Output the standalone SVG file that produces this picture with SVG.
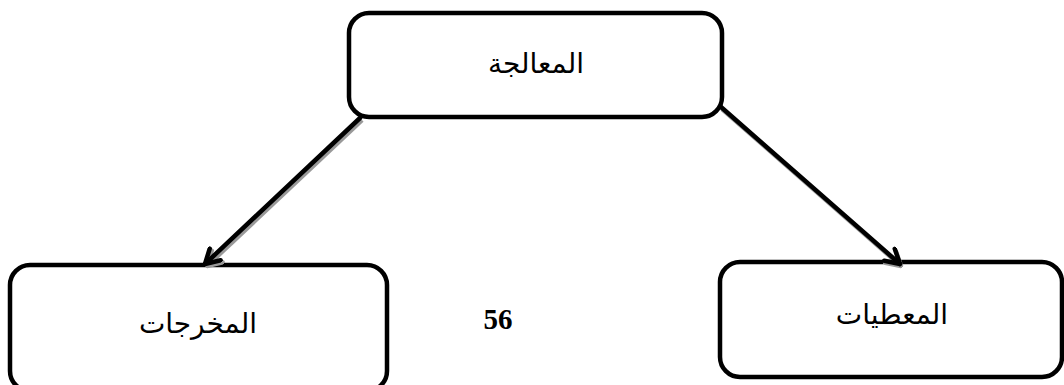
<svg xmlns="http://www.w3.org/2000/svg" width="1064" height="385" viewBox="0 0 1064 385">
<defs>
<style>
.box{fill:#fff;stroke:#000;stroke-width:4.5}
.lbl{font-family:"Liberation Sans","DejaVu Sans",sans-serif;font-size:28px;fill:#000;text-anchor:middle}
.num{font-family:"Liberation Serif",serif;font-size:29px;font-weight:bold;fill:#000;text-anchor:middle}
.conn{stroke:#000;stroke-width:4.5;fill:none;stroke-linecap:round}
.shadow{stroke:#999;stroke-width:4.5;fill:none}
</style>
<marker id="arr" viewBox="0 0 20 20" refX="18" refY="10" markerWidth="20" markerHeight="20" orient="auto" markerUnits="userSpaceOnUse">
<path d="M4,2 L18,10 L4,18" fill="none" stroke="#000" stroke-width="4.5" stroke-linecap="round" stroke-linejoin="round"/>
</marker>
<marker id="arrs" viewBox="0 0 20 20" refX="18" refY="10" markerWidth="20" markerHeight="20" orient="auto" markerUnits="userSpaceOnUse">
<path d="M4,2 L18,10 L4,18" fill="none" stroke="#999" stroke-width="4.5" stroke-linecap="round" stroke-linejoin="round"/>
</marker>
</defs>
<rect width="1064" height="385" fill="#fff"/>
<g id="processing">
<rect class="box" x="349" y="13" width="373" height="104" rx="20"/>
<text class="lbl" x="536" y="73">المعالجة</text>
</g>
<g id="outputs">
<rect class="box" x="10" y="265" width="377" height="126" rx="20"/>
<text class="lbl" x="198" y="333">المخرجات</text>
</g>
<g id="inputs">
<rect class="box" x="720" y="262" width="342" height="115" rx="20"/>
<text class="lbl" x="892" y="324">المعطيات</text>
</g>
<g id="page">
<text class="num" x="498" y="329">56</text>
</g>
<g id="connectors">
<line class="shadow" x1="362" y1="120" x2="207" y2="266" marker-end="url(#arrs)"/>
<line class="shadow" x1="722" y1="109" x2="901" y2="266" marker-end="url(#arrs)"/>
<line class="conn" x1="360" y1="118" x2="205" y2="264" marker-end="url(#arr)"/>
<line class="conn" x1="721" y1="107" x2="900" y2="264" marker-end="url(#arr)"/>
</g>
</svg>
